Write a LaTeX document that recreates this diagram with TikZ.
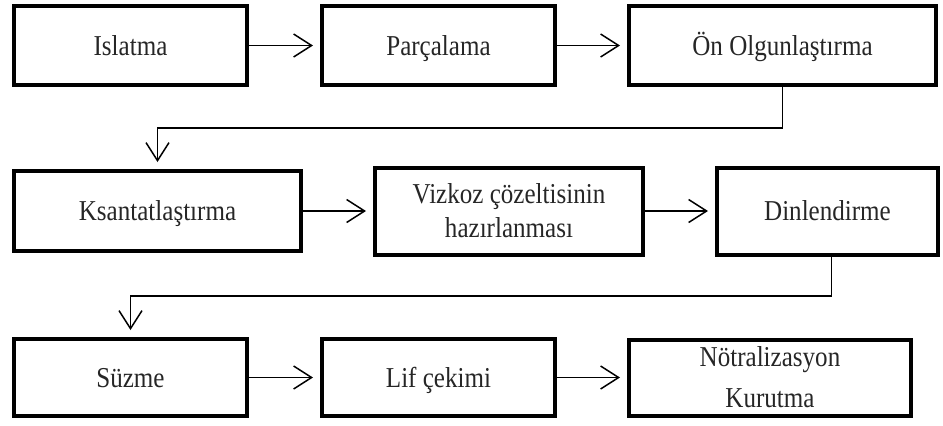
\documentclass[tikz,border=0pt]{standalone}
\usepackage{fontspec}
\setmainfont{Liberation Serif}[FakeStretch=0.87]
\usetikzlibrary{positioning,arrows.meta}

\begin{document}
\begin{tikzpicture}[box/.style={rectangle,draw,line width=2pt,text=black!85,align=center,font=\fontsize{14.4}{17}\selectfont},
    one/.style={text height=12pt,text depth=2.5pt},
    arr/.style={-{Straight Barb[length=9pt,width=11.5pt]},line width=0.75pt,shorten >=3.5pt},
    node distance=35pt]
        % first row
        \node [box,one,minimum width=116.5pt,minimum height=39.5pt] (isl) {Islatma};
        \node [box,one,minimum width=116.5pt,minimum height=39.5pt,right=35.5pt of isl] (par) {Parçalama};
        \node [box,one,minimum width=153.5pt,minimum height=39.5pt,right=of par] (onol) {Ön Olgunlaştırma};
        % second row
        \node [box,one,minimum width=143.5pt,minimum height=40pt,below=41pt of isl.south west,anchor=north west] (ksa) {Ksantatlaştırma};
        \node [box,minimum width=134pt,minimum height=43.5pt,right=of ksa] (viz) {Vizkoz çözeltisinin\\hazırlanması};
        \node [box,one,minimum width=110.5pt,minimum height=43.5pt,right=of viz] (din) {Dinlendirme};
        % third row
        \node [box,one,minimum width=116.5pt,minimum height=38.5pt,below=42pt of ksa.south west,anchor=north west] (suz) {Süzme};
        \node [box,one,minimum width=116.5pt,minimum height=38.5pt,right=35.5pt of suz] (lif) {Lif çekimi};
        \node [box,minimum width=141pt,minimum height=38pt,right=of lif] (notr) {Nötralizasyon\\[3.5pt]Kurutma};

        \coordinate [above=20.5pt of ksa.north] (k1);
        \coordinate [above=20.5pt of suz.north] (s1);

        \draw [arr] (isl) -- (par);
        \draw [arr] (par) -- (onol);
        \draw [arr] (onol.south) |- (k1) -- (ksa.north);
        \draw [arr] (ksa) -- (viz);
        \draw [arr] (viz) -- (din);
        \draw [arr] ([xshift=2pt]din.south) |- (s1) -- (suz.north);
        \draw [arr] (suz) -- (lif);
        \draw [arr] (lif) -- (notr);

        \useasboundingbox ([shift={(-6pt,2pt)}]isl.north west) rectangle ++(471.5pt,-212.5pt);
    \end{tikzpicture}
\end{document}
